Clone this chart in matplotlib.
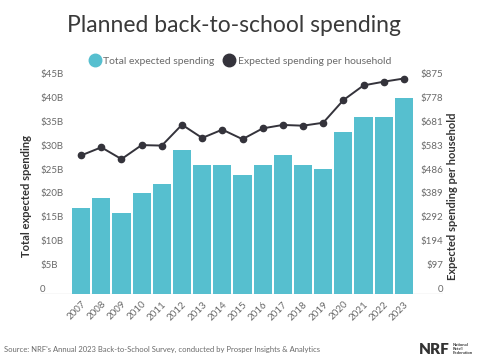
import matplotlib
matplotlib.use("Agg")
import matplotlib.pyplot as plt
from matplotlib.lines import Line2D

plt.rcParams['font.family'] = ['Lato', 'DejaVu Sans']

years = [str(y) for y in range(2007, 2024)]
total_spend = [18.0, 20.0, 17.0, 21.1, 23.0, 30.1, 27.0, 27.0, 25.0,
               27.0, 29.0, 27.0, 26.1, 34.0, 37.0, 37.0, 41.1]
per_household = [564, 597, 549, 606, 604, 689, 635, 669, 630,
                 674, 688, 685, 697, 789, 849, 864, 877]
left_ticks = [0, 5, 10, 15, 20, 25, 30, 35, 40, 45]
left_labels = ['0', '$5B', '$10B', '$15B', '$20B', '$25B', '$30B', '$35B', '$40B', '$45B']
right_ticks = [0, 97, 194, 292, 389, 486, 583, 681, 778, 875]
right_labels = ['0', '$97', '$194', '$292', '$389', '$486', '$583', '$681', '$778', '$875']

bar_color = '#56bfcf'
line_color = '#34333b'
grey = '#6a6a6a'

fig = plt.figure(figsize=(4.8, 3.59), dpi=100)
ax = fig.add_axes([40 / 480, 1 - 294 / 359, 403 / 480, 215 / 359])
ax2 = ax.twinx()

x = list(range(len(years)))
ax.bar(x, total_spend, width=0.9, color=bar_color, zorder=2)
ax.set_ylim(0, 45)
ax.set_xlim(-2.04, 17.94)
ax2.set_ylim(0, 875)
ax2.plot(x, per_household, color=line_color, lw=1.4, marker='o', ms=4.5,
         clip_on=False, zorder=3)

ax.axhline(0, color='#dddddd', lw=1, zorder=1)
for a in (ax, ax2):
    for s in a.spines.values():
        s.set_visible(False)
    a.set_yticks([])
ax.set_xticks(x)
ax.set_xticklabels(years, rotation=45, ha='right', rotation_mode='anchor',
                   fontsize=7, color=grey)
ax.tick_params(axis='x', length=0, pad=4)

for v, lab in zip(left_ticks, left_labels):
    ax.text(0, v, lab, transform=ax.get_yaxis_transform(), ha='left',
            va='bottom', fontsize=7, color=grey)
for v, lab in zip(right_ticks, right_labels):
    ax2.text(1, v, lab, transform=ax2.get_yaxis_transform(), ha='right',
             va='bottom', fontsize=7, color=grey)

fig.text(27 / 480, 1 - 196 / 359, 'Total expected spending', rotation=90,
         ha='center', va='center', fontsize=8, fontweight='bold', color='#333333')
fig.text(453 / 480, 1 - 196 / 359, 'Expected spending per household', rotation=90,
         ha='center', va='center', fontsize=8, fontweight='bold', color='#333333')

fig.text(0.488, 1 - 26 / 359, 'Planned back-to-school spending', ha='center',
         va='center', fontsize=16.5, color='#3a3a3a')

handles = [Line2D([], [], ls='', marker='o', ms=9, color=bar_color),
           Line2D([], [], ls='', marker='o', ms=9, color=line_color)]
fig.legend(handles, ['Total expected spending', 'Expected spending per household'],
           loc='center', bbox_to_anchor=(0.5, 1 - 61 / 359), ncol=2, frameon=False,
           fontsize=7.5, labelcolor=grey, handletextpad=0.2, columnspacing=0.8,
           handlelength=1.2)

fig.text(4 / 480, 1 - 349 / 359, "Source: NRF's Annual 2023 Back-to-School Survey, conducted by Prosper Insights & Analytics",
         ha='left', va='center', fontsize=5.5, color=grey)
fig.text(450 / 480, 1 - 349 / 359, 'NRF', ha='right', va='center', fontsize=11,
         fontweight='heavy', color='#333333')
fig.text(453 / 480, 1 - 349 / 359, 'National\nRetail\nFederation', ha='left',
         va='center', fontsize=3, fontweight='bold', color='#333333', linespacing=1.0)

fig.savefig('out.png', dpi=100)
